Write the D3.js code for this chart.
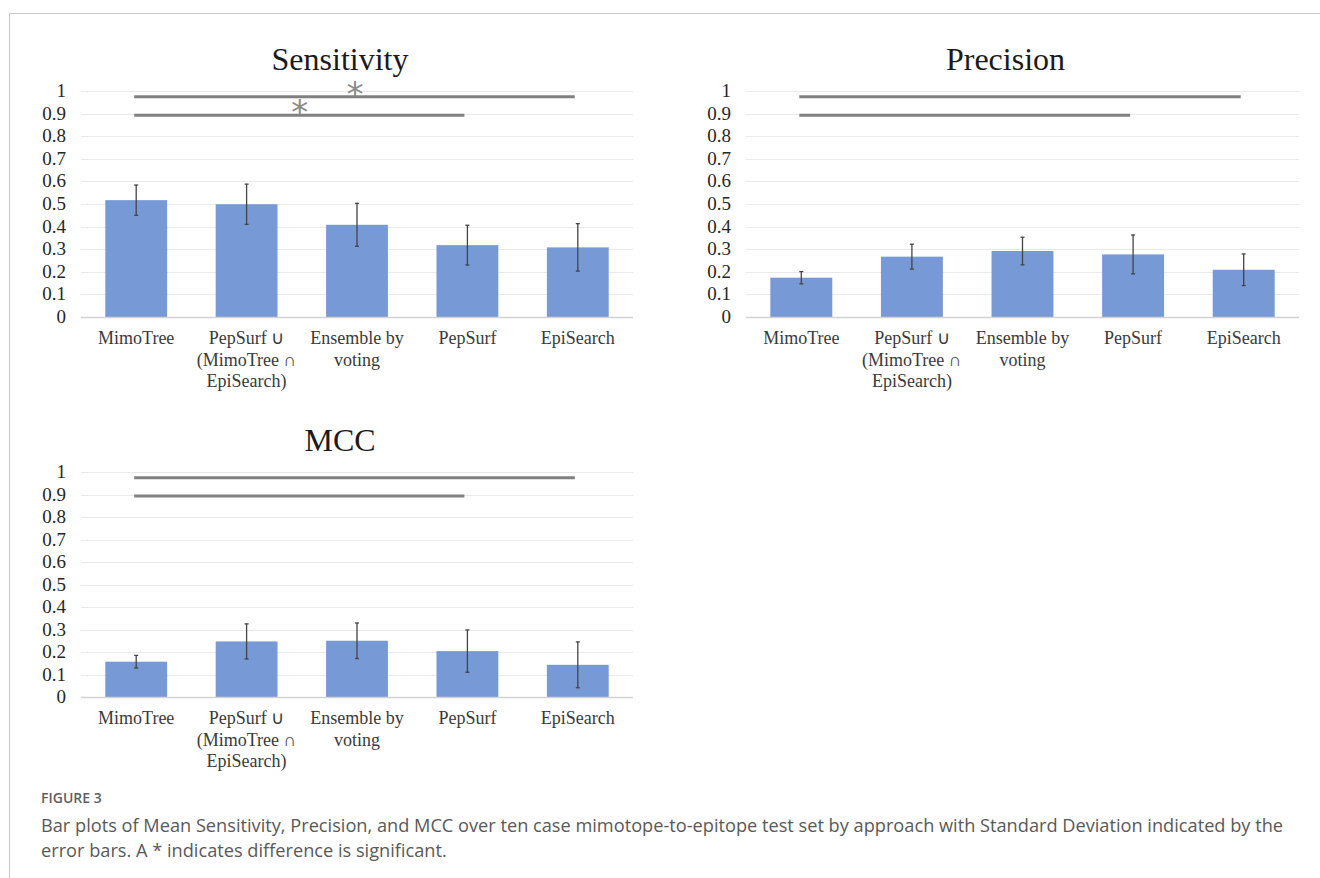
<!DOCTYPE html>
<html>
<head>
<meta charset="utf-8">
<script src="https://cdn.jsdelivr.net/npm/d3@7"></script>
<style>
  body { margin: 0; background: #fff; }
  svg { display: block; }
</style>
</head>
<body>
<script>
const width = 1320
const height = 878

// data
const categories = ['MimoTree', 'PepSurf ∪ (MimoTree ∩ EpiSearch)', 'Ensemble by voting', 'PepSurf', 'EpiSearch']
const categoryLines = [['MimoTree'], ['PepSurf ∪', '(MimoTree ∩', 'EpiSearch)'], ['Ensemble by', 'voting'], ['PepSurf'], ['EpiSearch']]
const yTicks = [0, 0.1, 0.2, 0.3, 0.4, 0.5, 0.6, 0.7, 0.8, 0.9, 1]

const sensitivityMean = [0.517, 0.499, 0.408, 0.318, 0.308]
const sensitivitySD = [0.067, 0.089, 0.095, 0.088, 0.105]
const precisionMean = [0.174, 0.267, 0.292, 0.277, 0.209]
const precisionSD = [0.027, 0.055, 0.061, 0.086, 0.070]
const mccMean = [0.157, 0.247, 0.250, 0.204, 0.143]
const mccSD = [0.028, 0.078, 0.079, 0.094, 0.102]

// significance brackets: [from, to, level]
const sigPairs = [['MimoTree', 'EpiSearch', 0.975], ['MimoTree', 'PepSurf', 0.893]]

const barColor = '#7799d6'
const serif = '"Liberation Serif", "Times New Roman", serif'

const svg = d3.select('body').append('svg').attr('width', width).attr('height', height)

// figure frame (top + left only)
svg.append('path')
  .attr('d', `M9.5,${height} V13.5 H${width}`)
  .attr('fill', 'none')
  .attr('stroke', '#c8c8c8')
  .attr('stroke-width', 1)

function drawPanel(opts) {
  const { title, means, sds, x0, x1, y0, y1, stars } = opts
  const g = svg.append('g')

  const x = d3.scaleBand().domain(categories).range([x0, x1]).paddingInner(0.44).paddingOuter(0.22)
  const y = d3.scaleLinear().domain([0, 1]).range([y0, y1])
  const rows = categories.map((c, i) => ({ cat: c, mean: means[i], sd: sds[i], lines: categoryLines[i] }))

  // title
  g.append('text')
    .attr('x', (x0 + x1) / 2 - 17)
    .attr('y', y1 - 21)
    .attr('text-anchor', 'middle')
    .attr('font-family', serif)
    .attr('font-size', 32)
    .attr('fill', '#1a1a1a')
    .text(title)

  // gridlines
  g.append('g')
    .selectAll('line')
    .data(yTicks.filter(t => t > 0))
    .join('line')
    .attr('x1', x0).attr('x2', x1)
    .attr('y1', d => Math.round(y(d)) + 0.5)
    .attr('y2', d => Math.round(y(d)) + 0.5)
    .attr('stroke', '#e9e9e9')
    .attr('stroke-width', 1)

  // y tick labels
  g.append('g')
    .selectAll('text')
    .data(yTicks)
    .join('text')
    .attr('x', x0 - 15)
    .attr('y', d => y(d) + 6)
    .attr('text-anchor', 'end')
    .attr('font-family', serif)
    .attr('font-size', 19)
    .attr('fill', '#262626')
    .text(d => d3.format('')(d))

  // bars
  g.append('g')
    .selectAll('rect')
    .data(rows)
    .join('rect')
    .attr('x', d => x(d.cat))
    .attr('width', x.bandwidth())
    .attr('y', d => y(d.mean))
    .attr('height', d => y(0) - y(d.mean))
    .attr('fill', barColor)

  // baseline
  g.append('line')
    .attr('x1', x0).attr('x2', x1)
    .attr('y1', y0 + 0.5).attr('y2', y0 + 0.5)
    .attr('stroke', '#d2d2d2')
    .attr('stroke-width', 1.5)

  // error bars
  const err = g.append('g').attr('stroke', '#444').attr('stroke-width', 1.3)
  err.selectAll('line.v')
    .data(rows)
    .join('line')
    .attr('class', 'v')
    .attr('x1', d => x(d.cat) + x.bandwidth() / 2)
    .attr('x2', d => x(d.cat) + x.bandwidth() / 2)
    .attr('y1', d => y(d.mean + d.sd))
    .attr('y2', d => y(d.mean - d.sd))
  ;['top', 'bot'].forEach(k => {
    err.selectAll('line.' + k)
      .data(rows)
      .join('line')
      .attr('class', k)
      .attr('x1', d => x(d.cat) + x.bandwidth() / 2 - 2)
      .attr('x2', d => x(d.cat) + x.bandwidth() / 2 + 2)
      .attr('y1', d => y(k === 'top' ? d.mean + d.sd : d.mean - d.sd))
      .attr('y2', d => y(k === 'top' ? d.mean + d.sd : d.mean - d.sd))
  })

  // category labels
  const lab = g.append('g')
    .selectAll('text')
    .data(rows)
    .join('text')
    .attr('text-anchor', 'middle')
    .attr('font-family', serif)
    .attr('font-size', 18)
    .attr('fill', '#3a3a3a')
  lab.selectAll('tspan')
    .data(d => d.lines.map(l => ({ l, cx: x(d.cat) + x.bandwidth() / 2 })))
    .join('tspan')
    .attr('x', d => d.cx)
    .attr('y', (d, i) => y0 + 27 + i * 21.5)
    .text(d => d.l)

  // significance lines
  const cx = c => x(c) + x.bandwidth() / 2
  g.append('g')
    .selectAll('line')
    .data(sigPairs)
    .join('line')
    .attr('x1', d => cx(d[0]) - 2)
    .attr('x2', d => cx(d[1]) - 3)
    .attr('y1', d => y(d[2]))
    .attr('y2', d => y(d[2]))
    .attr('stroke', '#808080')
    .attr('stroke-width', 3)

  if (stars) {
    g.append('g')
      .selectAll('text')
      .data(sigPairs)
      .join('text')
      .attr('x', d => (cx(d[0]) + cx(d[1])) / 2 - 2)
      .attr('y', d => y(d[2]) + 9)
      .attr('text-anchor', 'middle')
      .attr('font-family', '"DejaVu Sans", sans-serif')
      .attr('font-size', 34)
      .attr('fill', '#8a8a8a')
      .text('*')
  }
}

drawPanel({ title: 'Sensitivity', means: sensitivityMean, sds: sensitivitySD, x0: 81, x1: 633, y0: 317, y1: 91, stars: true })
drawPanel({ title: 'Precision', means: precisionMean, sds: precisionSD, x0: 746, x1: 1299, y0: 317, y1: 91, stars: false })
drawPanel({ title: 'MCC', means: mccMean, sds: mccSD, x0: 81, x1: 633, y0: 697, y1: 472, stars: false })

// caption
const cap = svg.append('g').attr('font-family', '"Open Sans", "Noto Sans", sans-serif')
cap.append('text')
  .attr('x', 41).attr('y', 803)
  .attr('font-size', 14)
  .attr('font-weight', 600)
  .attr('fill', '#5f5f5f')
  .text('FIGURE 3')
cap.append('text')
  .attr('x', 41).attr('y', 832)
  .attr('font-size', 18.2)
  .attr('fill', '#595959')
  .text('Bar plots of Mean Sensitivity, Precision, and MCC over ten case mimotope-to-epitope test set by approach with Standard Deviation indicated by the')
cap.append('text')
  .attr('x', 41).attr('y', 857)
  .attr('font-size', 18.2)
  .attr('fill', '#595959')
  .text('error bars. A * indicates difference is significant.')
</script>
</body>
</html>
